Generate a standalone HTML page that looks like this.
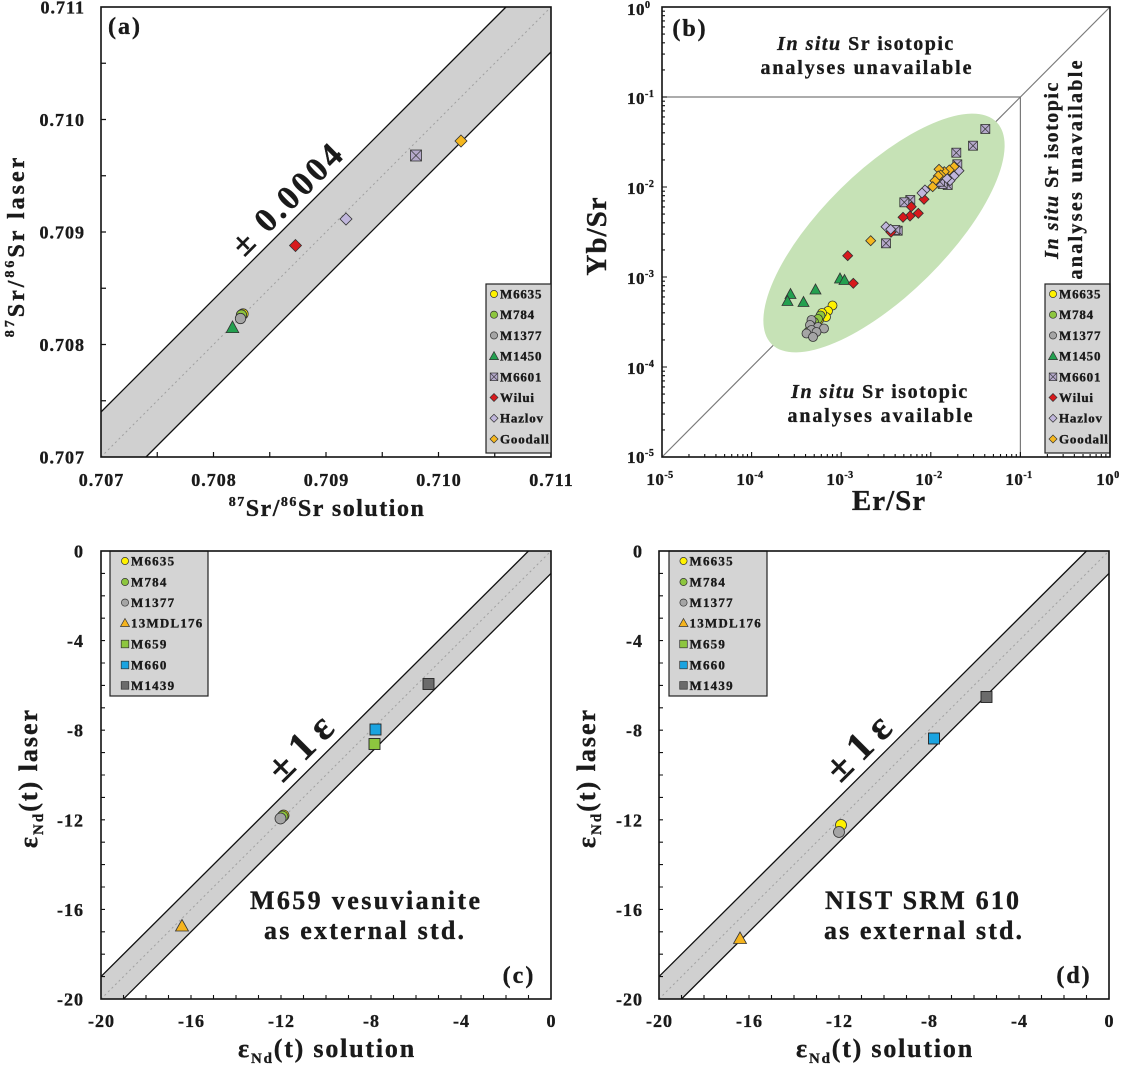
<!DOCTYPE html>
<html>
<head>
<meta charset="utf-8">
<style>
html,body{margin:0;padding:0;background:#fff;}
svg{display:block;}
text{font-family:"Liberation Serif","DejaVu Serif",serif;font-weight:bold;fill:#1a1a1a;stroke:#1a1a1a;stroke-width:0.35px;}
</style>
</head>
<body>
<svg width="1122" height="1065" viewBox="0 0 1122 1065" xmlns="http://www.w3.org/2000/svg">
<defs>
  <polygon id="dB" points="0,-5 5,0 0,5 -5,0" stroke="#333" stroke-width="0.8"/>
  <circle id="cB" r="4.5" stroke="#333" stroke-width="0.8"/>
  <polygon id="tB" points="0,-6 5.5,4 -5.5,4" stroke="#333" stroke-width="0.8"/>
  <g id="xB"><rect x="-4.5" y="-4.5" width="9" height="9" fill="#b5a9cb" stroke="#333" stroke-width="0.8"/><path d="M-4.5,-4.5L4.5,4.5M4.5,-4.5L-4.5,4.5" stroke="#333" stroke-width="0.7"/></g>
  <polygon id="dL" points="0,-4 4,0 0,4 -4,0" stroke="#333" stroke-width="0.7"/>
  <circle id="cL" r="3.6" stroke="#333" stroke-width="0.7"/>
  <polygon id="tL" points="0,-4.5 4.5,3.5 -4.5,3.5" stroke="#333" stroke-width="0.7"/>
  <rect id="sL" x="-3.8" y="-3.8" width="7.6" height="7.6" stroke="#333" stroke-width="0.7"/>
  <g id="xL"><rect x="-3.8" y="-3.8" width="7.6" height="7.6" fill="#b5a9cb" stroke="#333" stroke-width="0.7"/><path d="M-3.8,-3.8L3.8,3.8M3.8,-3.8L-3.8,3.8" stroke="#333" stroke-width="0.6"/></g>
</defs>

<!-- ================= PANEL (a) ================= -->
<polygon points="101,412 506,7 551,7 551,52 146,457 101,457" fill="#d0d0d0"/>
<line x1="101" y1="457" x2="551" y2="7" stroke="#a0a0a0" stroke-width="1" stroke-dasharray="2 3"/>
<line x1="101" y1="412" x2="506" y2="7" stroke="#111" stroke-width="1.3"/>
<line x1="146" y1="457" x2="551" y2="52" stroke="#111" stroke-width="1.3"/>
<path d="M157.25 457v-5M213.5 457v-5M269.75 457v-5M326 457v-5M382.25 457v-5M438.5 457v-5M494.75 457v-5M101 400.75h5M101 344.5h5M101 288.25h5M101 232h5M101 175.75h5M101 119.5h5M101 63.25h5" stroke="#111" stroke-width="1.2"/>
<rect x="101" y="7" width="450" height="450" fill="none" stroke="#111" stroke-width="1.6"/>

<text transform="translate(286,199) rotate(-45)" text-anchor="middle" y="12" font-size="34" textLength="142" lengthAdjust="spacing">± 0.0004</text>

<!-- data a -->
<polygon points="232.5,321 238.8,332.6 226.2,332.6" fill="#23a04f" stroke="#333" stroke-width="0.8"/>
<circle cx="243" cy="314" r="5.2" fill="#fff200" stroke="#333" stroke-width="0.8"/>
<circle cx="241.5" cy="315" r="5.2" fill="#8dc63f" stroke="#333" stroke-width="0.8"/>
<circle cx="240.5" cy="318.5" r="5.2" fill="#a5a5a5" stroke="#333" stroke-width="0.8"/>
<polygon points="295.5,239.5 301.5,245.5 295.5,251.5 289.5,245.5" fill="#d7191c" stroke="#333" stroke-width="0.8"/>
<polygon points="346,213 352,219 346,225 340,219" fill="#c0b6dc" stroke="#333" stroke-width="0.8"/>
<g><rect x="410.5" y="150" width="11" height="11" fill="#b5a9cb" stroke="#333" stroke-width="0.8"/><path d="M410.5,150L421.5,161M421.5,150L410.5,161" stroke="#333" stroke-width="0.7"/></g>
<polygon points="461,135 467,141 461,147 455,141" fill="#f5b71e" stroke="#333" stroke-width="0.8"/>

<!-- legend a -->
<rect x="486" y="284" width="65" height="169" fill="#d4d4d4" stroke="#222" stroke-width="1.2"/>
<use href="#cL" x="494" y="294" fill="#fff200"/><text x="500" y="298.5" font-size="13" letter-spacing="0.8">M6635</text>
<use href="#cL" x="494" y="314.7" fill="#8dc63f"/><text x="500" y="319.2" font-size="13" letter-spacing="0.8">M784</text>
<use href="#cL" x="494" y="335.4" fill="#a5a5a5"/><text x="500" y="339.9" font-size="13" letter-spacing="0.8">M1377</text>
<use href="#tL" x="494" y="356.1" fill="#23a04f"/><text x="500" y="360.6" font-size="13" letter-spacing="0.8">M1450</text>
<use href="#xL" x="494" y="376.8"/><text x="500" y="381.3" font-size="13" letter-spacing="0.8">M6601</text>
<use href="#dL" x="494" y="397.5" fill="#d7191c"/><text x="500" y="402" font-size="13" letter-spacing="0.8">Wilui</text>
<use href="#dL" x="494" y="418.2" fill="#c0b6dc"/><text x="500" y="422.7" font-size="13" letter-spacing="0.8">Hazlov</text>
<use href="#dL" x="494" y="439" fill="#f5b71e"/><text x="500" y="443.5" font-size="13" letter-spacing="0.8">Goodall</text>

<text x="125" y="34" text-anchor="middle" font-size="24" letter-spacing="2">(a)</text>

<!-- tick labels a -->
<g font-size="18" letter-spacing="1" text-anchor="end">
<text x="85" y="13.5">0.711</text>
<text x="85" y="126">0.710</text>
<text x="85" y="238.5">0.709</text>
<text x="85" y="351">0.708</text>
<text x="85" y="463.5">0.707</text>
</g>
<g font-size="18" letter-spacing="1" text-anchor="middle">
<text x="101.5" y="486">0.707</text>
<text x="214" y="486">0.708</text>
<text x="326.5" y="486">0.709</text>
<text x="439" y="486">0.710</text>
<text x="551.5" y="486">0.711</text>
</g>
<text x="327" y="516" text-anchor="middle" font-size="24" letter-spacing="1.5"><tspan font-size="14" dy="-10">87</tspan><tspan dy="10">Sr/</tspan><tspan font-size="14" dy="-10">86</tspan><tspan dy="10">Sr solution</tspan></text>
<text transform="translate(24,246) rotate(-90)" text-anchor="middle" font-size="24" letter-spacing="3"><tspan font-size="14" dy="-10">87</tspan><tspan dy="10">Sr/</tspan><tspan font-size="14" dy="-10">86</tspan><tspan dy="10">Sr laser</tspan></text>

<!-- ================= PANEL (b) ================= -->
<line x1="662" y1="457" x2="1110" y2="7" stroke="#7a7a7a" stroke-width="1.2"/>
<polyline points="662,97 1020.4,97 1020.4,457" fill="none" stroke="#7a7a7a" stroke-width="1.2"/>
<ellipse cx="884" cy="233" rx="158" ry="62" transform="rotate(-44.6 884 233)" fill="#c6e2b6"/>

<!-- b ticks -->
<path d="M662 367h5M662 277h5M662 187h5M662 97h5
M662 429.91h3M662 414.06h3M662 402.82h3M662 394.09h3M662 386.97h3M662 380.95h3M662 375.73h3M662 371.14h3
M662 339.91h3M662 324.06h3M662 312.82h3M662 304.09h3M662 296.97h3M662 290.95h3M662 285.73h3M662 281.14h3
M662 249.91h3M662 234.06h3M662 222.82h3M662 214.09h3M662 206.97h3M662 200.95h3M662 195.73h3M662 191.14h3
M662 159.91h3M662 144.06h3M662 132.82h3M662 124.09h3M662 116.97h3M662 110.95h3M662 105.73h3M662 101.14h3
M662 69.91h3M662 54.06h3M662 42.82h3M662 34.09h3M662 26.97h3M662 20.95h3M662 15.73h3M662 11.14h3
M751.6 457v-5M841.2 457v-5M930.8 457v-5M1020.4 457v-5
M688.97 457v-3M704.74 457v-3M715.94 457v-3M724.63 457v-3M731.71 457v-3M737.71 457v-3M742.91 457v-3M747.48 457v-3
M778.57 457v-3M794.34 457v-3M805.54 457v-3M814.23 457v-3M821.31 457v-3M827.31 457v-3M832.51 457v-3M837.08 457v-3
M868.17 457v-3M883.94 457v-3M895.14 457v-3M903.83 457v-3M910.91 457v-3M916.91 457v-3M922.11 457v-3M926.68 457v-3
M957.77 457v-3M973.54 457v-3M984.74 457v-3M993.43 457v-3M1000.51 457v-3M1006.51 457v-3M1011.71 457v-3M1016.28 457v-3
M1047.37 457v-3M1063.14 457v-3M1074.34 457v-3M1083.03 457v-3M1090.11 457v-3M1096.11 457v-3M1101.31 457v-3M1105.88 457v-3" stroke="#111" stroke-width="1.1"/>

<!-- b data -->
<g>
<use href="#cB" x="832.5" y="305.5" fill="#fff200"/>
<use href="#cB" x="828" y="311" fill="#fff200"/>
<use href="#cB" x="826" y="317" fill="#fff200"/>
<use href="#cB" x="822" y="313" fill="#fff200"/>
<use href="#cB" x="819" y="320" fill="#fff200"/>
<use href="#cB" x="820.5" y="315.5" fill="#8dc63f"/>
<use href="#cB" x="818" y="319" fill="#8dc63f"/>
<use href="#cB" x="814" y="322" fill="#8dc63f"/>
<use href="#cB" x="808.5" y="331.5" fill="#8dc63f"/>
<use href="#cB" x="811.5" y="320" fill="#a5a5a5"/>
<use href="#cB" x="810" y="325" fill="#a5a5a5"/>
<use href="#cB" x="818" y="327" fill="#a5a5a5"/>
<use href="#cB" x="824" y="328.5" fill="#a5a5a5"/>
<use href="#cB" x="811.5" y="330" fill="#a5a5a5"/>
<use href="#cB" x="816.5" y="332" fill="#a5a5a5"/>
<use href="#cB" x="806.5" y="333.5" fill="#a5a5a5"/>
<use href="#cB" x="813" y="337" fill="#a5a5a5"/>
<use href="#tB" x="840" y="279" fill="#23a04f"/>
<use href="#tB" x="844.5" y="280.5" fill="#23a04f"/>
<use href="#tB" x="815.5" y="290" fill="#23a04f"/>
<use href="#tB" x="790.5" y="294.5" fill="#23a04f"/>
<use href="#tB" x="787.5" y="301.5" fill="#23a04f"/>
<use href="#tB" x="803.5" y="302.5" fill="#23a04f"/>
<use href="#xB" x="985.3" y="129"/>
<use href="#xB" x="973" y="145.7"/>
<use href="#xB" x="956.3" y="152.7"/>
<use href="#xB" x="957.3" y="164.3"/>
<use href="#xB" x="947.7" y="185"/>
<use href="#xB" x="942.7" y="184"/>
<use href="#xB" x="940" y="181.7"/>
<use href="#xB" x="910.3" y="200"/>
<use href="#xB" x="904.3" y="202.3"/>
<use href="#xB" x="897.7" y="230.7"/>
<use href="#xB" x="895.3" y="230"/>
<use href="#xB" x="886" y="243.3"/>
<use href="#dB" x="924" y="199.3" fill="#d7191c"/>
<use href="#dB" x="911.3" y="206.7" fill="#d7191c"/>
<use href="#dB" x="918.3" y="213.3" fill="#d7191c"/>
<use href="#dB" x="910" y="216" fill="#d7191c"/>
<use href="#dB" x="903" y="217.3" fill="#d7191c"/>
<use href="#dB" x="891" y="232.3" fill="#d7191c"/>
<use href="#dB" x="847.7" y="255.7" fill="#d7191c"/>
<use href="#dB" x="853.3" y="283.3" fill="#d7191c"/>
<use href="#dB" x="959" y="170.7" fill="#c0b6dc"/>
<use href="#dB" x="954" y="176" fill="#c0b6dc"/>
<use href="#dB" x="950" y="180.7" fill="#c0b6dc"/>
<use href="#dB" x="946.7" y="178.3" fill="#c0b6dc"/>
<use href="#dB" x="925" y="190" fill="#c0b6dc"/>
<use href="#dB" x="922" y="193" fill="#c0b6dc"/>
<use href="#dB" x="886" y="226.7" fill="#c0b6dc"/>
<use href="#dB" x="890.7" y="229.3" fill="#c0b6dc"/>
<use href="#dB" x="954" y="166.7" fill="#f5b71e"/>
<use href="#dB" x="949.3" y="170" fill="#f5b71e"/>
<use href="#dB" x="944.3" y="171.7" fill="#f5b71e"/>
<use href="#dB" x="939" y="169.3" fill="#f5b71e"/>
<use href="#dB" x="940.7" y="175" fill="#f5b71e"/>
<use href="#dB" x="938.3" y="176" fill="#f5b71e"/>
<use href="#dB" x="935" y="180.7" fill="#f5b71e"/>
<use href="#dB" x="932.7" y="186.7" fill="#f5b71e"/>
<use href="#dB" x="870.7" y="240.7" fill="#f5b71e"/>
</g>

<!-- legend b -->
<rect x="1045" y="284" width="65" height="169" fill="#d4d4d4" stroke="#222" stroke-width="1.2"/>
<use href="#cL" x="1053" y="294" fill="#fff200"/><text x="1059" y="298.5" font-size="13" letter-spacing="0.8">M6635</text>
<use href="#cL" x="1053" y="314.7" fill="#8dc63f"/><text x="1059" y="319.2" font-size="13" letter-spacing="0.8">M784</text>
<use href="#cL" x="1053" y="335.4" fill="#a5a5a5"/><text x="1059" y="339.9" font-size="13" letter-spacing="0.8">M1377</text>
<use href="#tL" x="1053" y="356.1" fill="#23a04f"/><text x="1059" y="360.6" font-size="13" letter-spacing="0.8">M1450</text>
<use href="#xL" x="1053" y="376.8"/><text x="1059" y="381.3" font-size="13" letter-spacing="0.8">M6601</text>
<use href="#dL" x="1053" y="397.5" fill="#d7191c"/><text x="1059" y="402" font-size="13" letter-spacing="0.8">Wilui</text>
<use href="#dL" x="1053" y="418.2" fill="#c0b6dc"/><text x="1059" y="422.7" font-size="13" letter-spacing="0.8">Hazlov</text>
<use href="#dL" x="1053" y="439" fill="#f5b71e"/><text x="1059" y="443.5" font-size="13" letter-spacing="0.8">Goodall</text>

<rect x="662" y="7" width="448" height="450" fill="none" stroke="#111" stroke-width="1.6"/>

<text x="690" y="36" text-anchor="middle" font-size="24" letter-spacing="2">(b)</text>

<!-- b region texts -->
<text x="866" y="50" text-anchor="middle" font-size="20" letter-spacing="1.5"><tspan font-style="italic">In situ</tspan> Sr isotopic</text>
<text x="866" y="74" text-anchor="middle" font-size="20" textLength="211" lengthAdjust="spacing">analyses unavailable</text>
<text x="880" y="398" text-anchor="middle" font-size="20" letter-spacing="1.5"><tspan font-style="italic">In situ</tspan> Sr isotopic</text>
<text x="880" y="422" text-anchor="middle" font-size="20" textLength="185" lengthAdjust="spacing">analyses available</text>
<text transform="translate(1058,170) rotate(-90)" text-anchor="middle" font-size="20" letter-spacing="1.5"><tspan font-style="italic">In situ</tspan> Sr isotopic</text>
<text transform="translate(1082,170) rotate(-90)" text-anchor="middle" font-size="20" textLength="219" lengthAdjust="spacing">analyses unavailable</text>

<!-- b tick labels -->
<g font-size="17" text-anchor="middle" letter-spacing="0.5">
<text x="660" y="485">10<tspan font-size="10" dy="-7">-5</tspan></text>
<text x="750" y="485">10<tspan font-size="10" dy="-7">-4</tspan></text>
<text x="840" y="485">10<tspan font-size="10" dy="-7">-3</tspan></text>
<text x="929" y="485">10<tspan font-size="10" dy="-7">-2</tspan></text>
<text x="1019" y="485">10<tspan font-size="10" dy="-7">-1</tspan></text>
<text x="1108" y="485">10<tspan font-size="10" dy="-7">0</tspan></text>
</g>
<g font-size="17" letter-spacing="0.5">
<text x="627" y="15">10<tspan font-size="10" dy="-7">0</tspan></text>
<text x="627" y="104">10<tspan font-size="10" dy="-7">-1</tspan></text>
<text x="627" y="194">10<tspan font-size="10" dy="-7">-2</tspan></text>
<text x="627" y="284">10<tspan font-size="10" dy="-7">-3</tspan></text>
<text x="627" y="374">10<tspan font-size="10" dy="-7">-4</tspan></text>
<text x="627" y="463">10<tspan font-size="10" dy="-7">-5</tspan></text>
</g>
<text x="889" y="510" text-anchor="middle" font-size="29" letter-spacing="1">Er/Sr</text>
<text transform="translate(606,236) rotate(-90)" text-anchor="middle" font-size="29" letter-spacing="1">Yb/Sr</text>

<!-- ================= PANEL (c) ================= -->
<polygon points="101,976.6 528.5,551 551,551 551,573.4 123.5,999 101,999" fill="#d0d0d0"/>
<line x1="101" y1="999" x2="551" y2="551" stroke="#a0a0a0" stroke-width="1" stroke-dasharray="2 3"/>
<line x1="101" y1="976.6" x2="528.5" y2="551" stroke="#111" stroke-width="1.3"/>
<line x1="123.5" y1="999" x2="551" y2="573.4" stroke="#111" stroke-width="1.3"/>
<path d="M101 573.4h4M101 595.8h4M101 618.2h4M101 640.6h4M101 663h4M101 685.4h4M101 707.8h4M101 730.2h4M101 752.6h4M101 775h4M101 797.4h4M101 819.8h4M101 842.2h4M101 864.6h4M101 887h4M101 909.4h4M101 931.8h4M101 954.2h4M101 976.6h4
M123.5 999v-4M146 999v-4M168.5 999v-4M191 999v-4M213.5 999v-4M236 999v-4M258.5 999v-4M281 999v-4M303.5 999v-4M326 999v-4M348.5 999v-4M371 999v-4M393.5 999v-4M416 999v-4M438.5 999v-4M461 999v-4M483.5 999v-4M506 999v-4M528.5 999v-4" stroke="#111" stroke-width="1.1"/>

<text transform="translate(300,748) rotate(-45)" text-anchor="middle" y="13" font-size="40" textLength="76" lengthAdjust="spacing">±1ε</text>

<!-- c data -->
<rect x="423" y="678.5" width="11" height="11" fill="#6b6b6b" stroke="#222" stroke-width="0.9"/>
<rect x="370" y="724" width="11" height="11" fill="#1aa3e0" stroke="#222" stroke-width="0.9"/>
<rect x="369" y="738.5" width="11" height="11" fill="#8dc63f" stroke="#222" stroke-width="0.9"/>
<circle cx="283.5" cy="815.5" r="5.5" fill="#fff200" stroke="#333" stroke-width="0.8"/>
<circle cx="282.5" cy="816.5" r="5.5" fill="#8dc63f" stroke="#333" stroke-width="0.8"/>
<circle cx="280.5" cy="818.5" r="5.5" fill="#a5a5a5" stroke="#333" stroke-width="0.8"/>
<polygon points="182,919.5 188.5,931 175.5,931" fill="#f5b41e" stroke="#333" stroke-width="0.8"/>

<!-- legend c -->
<rect x="110" y="551" width="98" height="145" fill="#d4d4d4" stroke="#222" stroke-width="1.2"/>
<use href="#cL" x="125" y="561" fill="#fff200"/><text x="131" y="565.5" font-size="13" letter-spacing="1.2">M6635</text>
<use href="#cL" x="125" y="582" fill="#8dc63f"/><text x="131" y="586.5" font-size="13" letter-spacing="1.2">M784</text>
<use href="#cL" x="125" y="602.6" fill="#a5a5a5"/><text x="131" y="607.1" font-size="13" letter-spacing="1.2">M1377</text>
<use href="#tL" x="125" y="623" fill="#f5b41e"/><text x="131" y="627.5" font-size="13" letter-spacing="1.2">13MDL176</text>
<use href="#sL" x="125" y="644" fill="#8dc63f"/><text x="131" y="648.5" font-size="13" letter-spacing="1.2">M659</text>
<use href="#sL" x="125" y="665" fill="#1aa3e0"/><text x="131" y="669.5" font-size="13" letter-spacing="1.2">M660</text>
<use href="#sL" x="125" y="685.4" fill="#6b6b6b"/><text x="131" y="689.9" font-size="13" letter-spacing="1.2">M1439</text>

<rect x="101" y="551" width="450" height="448" fill="none" stroke="#111" stroke-width="1.6"/>

<text x="365" y="909" text-anchor="middle" font-size="26" textLength="230" lengthAdjust="spacing">M659 vesuvianite</text>
<text x="364" y="939" text-anchor="middle" font-size="26" textLength="200" lengthAdjust="spacing">as external std.</text>
<text x="519" y="983" text-anchor="middle" font-size="24" letter-spacing="2">(c)</text>

<g font-size="18" letter-spacing="1" text-anchor="end">
<text x="84" y="557.5">0</text>
<text x="84" y="647">-4</text>
<text x="84" y="736.7">-8</text>
<text x="84" y="826.3">-12</text>
<text x="84" y="916">-16</text>
<text x="84" y="1005.5">-20</text>
</g>
<g font-size="18" letter-spacing="1" text-anchor="middle">
<text x="101.5" y="1027">-20</text>
<text x="191.5" y="1027">-16</text>
<text x="281.5" y="1027">-12</text>
<text x="371.5" y="1027">-8</text>
<text x="461.5" y="1027">-4</text>
<text x="551.5" y="1027">0</text>
</g>
<text x="327" y="1057" text-anchor="middle" font-size="26" letter-spacing="1.8">ε<tspan font-size="15" dy="6">Nd</tspan><tspan dy="-6">(t) solution</tspan></text>
<text transform="translate(37,778) rotate(-90)" text-anchor="middle" font-size="26" letter-spacing="2">ε<tspan font-size="15" dy="6">Nd</tspan><tspan dy="-6">(t) laser</tspan></text>

<!-- ================= PANEL (d) ================= -->
<polygon points="659,976.6 1086.5,551 1109,551 1109,573.4 681.5,999 659,999" fill="#d0d0d0"/>
<line x1="659" y1="999" x2="1109" y2="551" stroke="#a0a0a0" stroke-width="1" stroke-dasharray="2 3"/>
<line x1="659" y1="976.6" x2="1086.5" y2="551" stroke="#111" stroke-width="1.3"/>
<line x1="681.5" y1="999" x2="1109" y2="573.4" stroke="#111" stroke-width="1.3"/>
<path d="M659 573.4h4M659 595.8h4M659 618.2h4M659 640.6h4M659 663h4M659 685.4h4M659 707.8h4M659 730.2h4M659 752.6h4M659 775h4M659 797.4h4M659 819.8h4M659 842.2h4M659 864.6h4M659 887h4M659 909.4h4M659 931.8h4M659 954.2h4M659 976.6h4
M681.5 999v-4M704 999v-4M726.5 999v-4M749 999v-4M771.5 999v-4M794 999v-4M816.5 999v-4M839 999v-4M861.5 999v-4M884 999v-4M906.5 999v-4M929 999v-4M951.5 999v-4M974 999v-4M996.5 999v-4M1019 999v-4M1041.5 999v-4M1064 999v-4M1086.5 999v-4" stroke="#111" stroke-width="1.1"/>

<text transform="translate(858,748) rotate(-45)" text-anchor="middle" y="13" font-size="40" textLength="76" lengthAdjust="spacing">±1ε</text>

<!-- d data -->
<rect x="981" y="691.5" width="11" height="11" fill="#6b6b6b" stroke="#222" stroke-width="0.9"/>
<rect x="928.5" y="733" width="11" height="11" fill="#1aa3e0" stroke="#222" stroke-width="0.9"/>
<circle cx="841" cy="825" r="5.5" fill="#fff200" stroke="#333" stroke-width="0.8"/>
<circle cx="839" cy="832" r="5.5" fill="#a5a5a5" stroke="#333" stroke-width="0.8"/>
<polygon points="740,932 746.5,943.5 733.5,943.5" fill="#f5b41e" stroke="#333" stroke-width="0.8"/>

<!-- legend d -->
<rect x="669" y="551" width="98" height="145" fill="#d4d4d4" stroke="#222" stroke-width="1.2"/>
<use href="#cL" x="683.5" y="561" fill="#fff200"/><text x="689.5" y="565.5" font-size="13" letter-spacing="1.2">M6635</text>
<use href="#cL" x="683.5" y="582" fill="#8dc63f"/><text x="689.5" y="586.5" font-size="13" letter-spacing="1.2">M784</text>
<use href="#cL" x="683.5" y="602.6" fill="#a5a5a5"/><text x="689.5" y="607.1" font-size="13" letter-spacing="1.2">M1377</text>
<use href="#tL" x="683.5" y="623" fill="#f5b41e"/><text x="689.5" y="627.5" font-size="13" letter-spacing="1.2">13MDL176</text>
<use href="#sL" x="683.5" y="644" fill="#8dc63f"/><text x="689.5" y="648.5" font-size="13" letter-spacing="1.2">M659</text>
<use href="#sL" x="683.5" y="665" fill="#1aa3e0"/><text x="689.5" y="669.5" font-size="13" letter-spacing="1.2">M660</text>
<use href="#sL" x="683.5" y="685.4" fill="#6b6b6b"/><text x="689.5" y="689.9" font-size="13" letter-spacing="1.2">M1439</text>

<rect x="659" y="551" width="450" height="448" fill="none" stroke="#111" stroke-width="1.6"/>

<text x="922" y="909" text-anchor="middle" font-size="26" textLength="194" lengthAdjust="spacing">NIST SRM 610</text>
<text x="923" y="939" text-anchor="middle" font-size="26" textLength="198" lengthAdjust="spacing">as external std.</text>
<text x="1074" y="983" text-anchor="middle" font-size="24" letter-spacing="2">(d)</text>

<g font-size="18" letter-spacing="1" text-anchor="end">
<text x="643" y="557.5">0</text>
<text x="643" y="647">-4</text>
<text x="643" y="736.7">-8</text>
<text x="643" y="826.3">-12</text>
<text x="643" y="916">-16</text>
<text x="643" y="1005.5">-20</text>
</g>
<g font-size="18" letter-spacing="1" text-anchor="middle">
<text x="659.5" y="1027">-20</text>
<text x="749.5" y="1027">-16</text>
<text x="839.5" y="1027">-12</text>
<text x="929.5" y="1027">-8</text>
<text x="1019.5" y="1027">-4</text>
<text x="1109.5" y="1027">0</text>
</g>
<text x="885" y="1057" text-anchor="middle" font-size="26" letter-spacing="1.8">ε<tspan font-size="15" dy="6">Nd</tspan><tspan dy="-6">(t) solution</tspan></text>
<text transform="translate(595,778) rotate(-90)" text-anchor="middle" font-size="26" letter-spacing="2">ε<tspan font-size="15" dy="6">Nd</tspan><tspan dy="-6">(t) laser</tspan></text>

</svg>
</body>
</html>
